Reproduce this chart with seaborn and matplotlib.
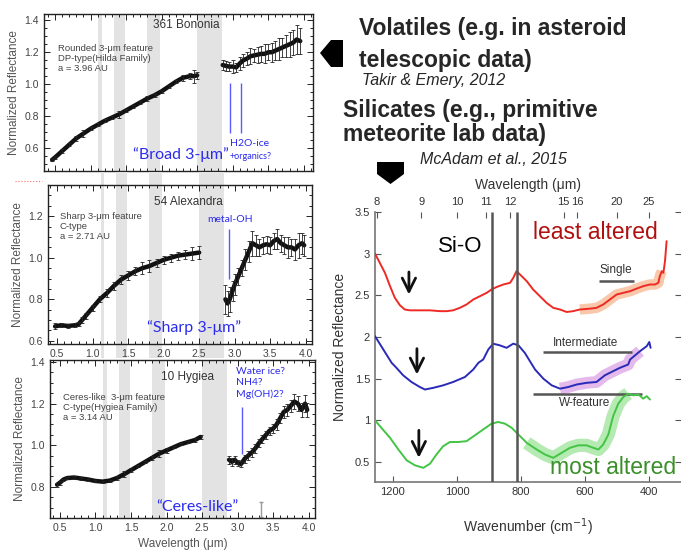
import numpy as np
import pandas as pd
import seaborn as sns
import matplotlib.pyplot as plt
from matplotlib.patches import Polygon
from matplotlib.ticker import MultipleLocator

# ---- asteroid spectra (Takir & Emery 2012) ----
bands = [(1.11, 1.16), (1.33, 1.48), (1.80, 1.98), (2.50, 2.85)]

bon_wl_a = [0.46, 0.50, 0.60, 0.70, 0.80, 0.90, 1.00, 1.10, 1.20, 1.30, 1.40, 1.50, 1.60,
            1.70, 1.80, 1.90, 2.00, 2.10, 2.20, 2.30, 2.40, 2.45, 2.50]
bon_r_a = [0.525, 0.54, 0.58, 0.62, 0.66, 0.69, 0.72, 0.745, 0.77, 0.79, 0.81, 0.835, 0.86,
           0.885, 0.91, 0.93, 0.955, 0.985, 1.015, 1.04, 1.05, 1.05, 1.055]
bon_e_a = [0.01, 0.01, 0.01, 0.01, 0.015, 0.02, 0.01, 0.01, 0.01, 0.01, 0.02, 0.01, 0.01,
           0.01, 0.015, 0.01, 0.01, 0.01, 0.01, 0.02, 0.02, 0.04, 0.02]
bon_wl_b = [2.86, 2.90, 2.95, 3.00, 3.05, 3.10, 3.15, 3.20, 3.25, 3.30, 3.35, 3.40, 3.45,
            3.50, 3.55, 3.60, 3.65, 3.70, 3.75, 3.80, 3.85, 3.90, 3.95]
bon_r_b = [1.12, 1.115, 1.11, 1.11, 1.105, 1.13, 1.15, 1.16, 1.175, 1.18, 1.185, 1.19, 1.19,
           1.20, 1.20, 1.21, 1.22, 1.23, 1.24, 1.25, 1.26, 1.28, 1.27]
bon_e_b = [0.03, 0.03, 0.03, 0.04, 0.03, 0.04, 0.04, 0.04, 0.05, 0.04, 0.05, 0.05, 0.06,
           0.05, 0.06, 0.06, 0.07, 0.06, 0.07, 0.08, 0.08, 0.09, 0.08]

ale_wl_a = [0.47, 0.55, 0.65, 0.75, 0.80, 0.85, 0.90, 1.00, 1.10, 1.20, 1.30, 1.40, 1.50,
            1.60, 1.70, 1.80, 1.90, 2.00, 2.10, 2.20, 2.30, 2.40, 2.50]
ale_r_a = [0.67, 0.675, 0.672, 0.675, 0.68, 0.70, 0.72, 0.76, 0.80, 0.83, 0.865, 0.895, 0.915,
           0.935, 0.95, 0.96, 0.975, 0.99, 1.00, 1.01, 1.015, 1.02, 1.025]
ale_e_a = [0.015, 0.01, 0.01, 0.01, 0.01, 0.015, 0.015, 0.015, 0.015, 0.02, 0.02, 0.02, 0.02,
           0.02, 0.03, 0.03, 0.02, 0.02, 0.02, 0.02, 0.02, 0.03, 0.03]
ale_wl_b = [2.87, 2.90, 2.93, 2.97, 3.00, 3.05, 3.10, 3.15, 3.20, 3.25, 3.30, 3.35, 3.40,
            3.45, 3.50, 3.55, 3.60, 3.65, 3.70, 3.75, 3.80, 3.85, 3.90, 3.95, 3.98]
ale_r_b = [0.80, 0.78, 0.80, 0.84, 0.87, 0.91, 0.95, 0.99, 1.03, 1.07, 1.06, 1.05, 1.06,
           1.065, 1.06, 1.08, 1.09, 1.07, 1.06, 1.05, 1.05, 1.04, 1.06, 1.07, 1.06]
ale_e_b = [0.07, 0.06, 0.06, 0.05, 0.05, 0.04, 0.04, 0.05, 0.05, 0.06, 0.05, 0.04, 0.04,
           0.04, 0.04, 0.04, 0.05, 0.04, 0.04, 0.05, 0.04, 0.05, 0.06, 0.05, 0.05]

hyg_wl_a = [0.46, 0.50, 0.55, 0.60, 0.70, 0.80, 0.90, 1.00, 1.10, 1.20, 1.30, 1.40, 1.50,
            1.60, 1.70, 1.80, 1.90, 2.00, 2.10, 2.20, 2.30, 2.40, 2.48]
hyg_r_a = [0.81, 0.82, 0.835, 0.842, 0.845, 0.84, 0.835, 0.828, 0.825, 0.83, 0.842, 0.86, 0.88,
           0.90, 0.92, 0.94, 0.96, 0.975, 0.99, 1.005, 1.015, 1.025, 1.04]
hyg_e_a = [0.01, 0.01, 0.005, 0.005, 0.005, 0.005, 0.005, 0.005, 0.005, 0.005, 0.01, 0.015, 0.01,
           0.005, 0.005, 0.01, 0.015, 0.01, 0.005, 0.005, 0.005, 0.01, 0.01]
hyg_wl_b = [2.88, 2.92, 2.96, 3.00, 3.05, 3.10, 3.15, 3.20, 3.25, 3.30, 3.35, 3.40, 3.45,
            3.50, 3.55, 3.60, 3.65, 3.70, 3.75, 3.80, 3.85, 3.90, 3.95, 3.98]
hyg_r_b = [0.93, 0.92, 0.93, 0.915, 0.91, 0.935, 0.95, 0.965, 0.985, 1.01, 1.03, 1.05, 1.07,
           1.08, 1.10, 1.13, 1.16, 1.17, 1.19, 1.21, 1.20, 1.17, 1.20, 1.17]
hyg_e_b = [0.02, 0.02, 0.02, 0.015, 0.015, 0.02, 0.02, 0.02, 0.02, 0.02, 0.02, 0.02, 0.02,
           0.02, 0.025, 0.025, 0.03, 0.03, 0.03, 0.035, 0.035, 0.035, 0.04, 0.035]

# ---- meteorite spectra (McAdam et al. 2015) ----
red_wn = [1256, 1241, 1225, 1209, 1194, 1178, 1163, 1147, 1116, 1084, 1053, 1032, 1012, 991,
          970, 949, 928, 907, 892, 876, 855, 834, 824, 814, 803, 782, 762, 741, 720, 699, 678,
          657, 637, 616, 584, 564, 543, 522, 501, 480, 459, 439, 418, 397, 381, 371, 366, 360,
          355, 350, 345]
red_r = [3.00, 2.89, 2.77, 2.61, 2.47, 2.38, 2.33, 2.32, 2.32, 2.32, 2.31, 2.31, 2.32, 2.35,
         2.39, 2.45, 2.49, 2.53, 2.57, 2.60, 2.63, 2.65, 2.71, 2.79, 2.75, 2.67, 2.57, 2.49,
         2.41, 2.35, 2.33, 2.30, 2.31, 2.33, 2.34, 2.35, 2.39, 2.45, 2.51, 2.53, 2.55, 2.58,
         2.61, 2.63, 2.63, 2.65, 2.73, 2.79, 2.77, 2.91, 3.15]
blue_wn = [1256, 1230, 1204, 1189, 1168, 1142, 1116, 1100, 1074, 1043, 1012, 975, 949, 933,
           918, 902, 887, 866, 845, 824, 808, 788, 772, 756, 730, 704, 678, 652, 626, 595, 564,
           538, 512, 491, 465, 459, 428, 407, 399, 395]
blue_r = [2.01, 1.85, 1.69, 1.63, 1.54, 1.46, 1.40, 1.37, 1.39, 1.42, 1.46, 1.52, 1.61, 1.69,
          1.73, 1.85, 1.92, 1.90, 1.87, 1.92, 1.90, 1.81, 1.71, 1.61, 1.50, 1.42, 1.38, 1.40,
          1.43, 1.45, 1.46, 1.54, 1.59, 1.63, 1.67, 1.73, 1.83, 1.89, 1.94, 1.87]
green_wn = [1256, 1236, 1209, 1183, 1157, 1131, 1105, 1084, 1064, 1043, 1022, 996, 970, 944,
            918, 892, 871, 850, 829, 808, 782, 751, 725, 699, 673, 647, 621, 595, 574, 558, 543,
            527, 512, 496, 480, 465, 449, 433, 418, 407, 397]
green_r = [1.00, 0.91, 0.79, 0.65, 0.52, 0.46, 0.43, 0.48, 0.59, 0.69, 0.74, 0.74, 0.75, 0.82,
           0.89, 0.96, 0.98, 0.96, 0.91, 0.83, 0.73, 0.65, 0.59, 0.55, 0.61, 0.67, 0.70, 0.70,
           0.67, 0.65, 0.71, 0.83, 1.05, 1.20, 1.28, 1.32, 1.30, 1.31, 1.26, 1.29, 1.25]
top_ticks = [8, 9, 10, 11, 12, 15, 16, 20, 25]
sio_lines = [891, 812]

W, H = 681, 550
sns.set_style("ticks")
plt.rcParams['font.family'] = ['Liberation Sans', 'DejaVu Sans']
fig = plt.figure(figsize=(W / 100, H / 100), dpi=100)


def box(x0, y0, x1, y1):
    return [x0 / W, 1 - y1 / H, (x1 - x0) / W, (y1 - y0) / H]


grey = '#444444'
blue = '#2b2bef'
note_font = ['Lato', 'DejaVu Sans']


def spectrum(ax, wla, ra, ea, wlb, rb, eb, xlim, ylim, yticks):
    for lo, hi in bands:
        ax.axvspan(lo, hi, color='#e3e3e3', lw=0, zorder=0)
    for wl, r, e in [(wla, ra, ea), (wlb, rb, eb)]:
        df = pd.DataFrame({'wl': wl, 'r': r})
        sns.lineplot(data=df, x='wl', y='r', ax=ax, color='#111111', lw=3.2,
                     estimator=None, sort=False, zorder=3)
        ax.errorbar(wl, r, yerr=e, fmt='none', ecolor='#222222', elinewidth=0.6,
                    capsize=1.3, capthick=0.6, zorder=3)
    ax.set_xlim(*xlim)
    ax.set_ylim(*ylim)
    ax.set_yticks(yticks)
    ax.set_xticks([0.5, 1.0, 1.5, 2.0, 2.5, 3.0, 3.5, 4.0])
    ax.xaxis.set_minor_locator(MultipleLocator(0.1))
    ax.yaxis.set_minor_locator(MultipleLocator(0.05))
    ax.tick_params(which='both', direction='in', top=True, right=True, colors='#222222',
                   labelcolor=grey, labelsize=7.5, width=0.7)
    ax.tick_params(which='major', length=4)
    ax.tick_params(which='minor', length=2)
    for s in ax.spines.values():
        s.set_linewidth(1.0)
        s.set_color('#222222')
    ax.set_xlabel('')
    ax.set_ylabel('Normalized Reflectance', fontsize=8.5, color='#555555', labelpad=3)


# panel 1: 361 Bononia
ax1 = fig.add_axes(box(44, 14, 313, 171))
spectrum(ax1, bon_wl_a, bon_r_a, bon_e_a, bon_wl_b, bon_r_b, bon_e_b,
         (0.345, 4.13), (0.455, 1.44), [0.6, 0.8, 1.0, 1.2, 1.4])
ax1.tick_params(labelbottom=False)
ax1.text(0.53, 0.93, '361 Bononia', transform=ax1.transAxes, ha='center', va='center',
         fontsize=8.5, color='#333333')
ax1.text(0.052, 0.81, 'Rounded 3-\u03bcm feature\nDP-type(Hilda Family)\na = 3.96 AU',
         transform=ax1.transAxes, ha='left', va='top', fontsize=6.8, color='#444444',
         linespacing=1.15)
ax1.vlines([2.96, 3.12], 0.694, 1.006, color='#5a5aff', lw=1.0)
ax1.text(2.96, 0.63, 'H2O-ice', color=blue, fontsize=7.5, family=note_font, va='center')
ax1.text(2.96, 0.544, '+organics?', color=blue, fontsize=6.5, family=note_font, va='center')
ax1.text(1.60, 0.556, '\u201cBroad 3-\u03bcm\u201d', color=blue, fontsize=11.5,
         family=note_font, va='center')

# panel 2: 54 Alexandra
ax2 = fig.add_axes(box(48, 185, 312, 344))
spectrum(ax2, ale_wl_a, ale_r_a, ale_e_a, ale_wl_b, ale_r_b, ale_e_b,
         (0.37, 4.09), (0.585, 1.35), [0.6, 0.8, 1.0, 1.2])
for lo, hi in bands:
    ax2.axvspan(lo, hi, ymin=-0.085, ymax=1.08, color='#e3e3e3', lw=0, zorder=0,
                clip_on=False)
ax2.text(0.53, 0.89, '54 Alexandra', transform=ax2.transAxes, ha='center', va='center',
         fontsize=8.5, color='#333333')
ax2.text(0.045, 0.83, 'Sharp 3-\u03bcm feature\nC-type\na = 2.71 AU',
         transform=ax2.transAxes, ha='left', va='top', fontsize=6.8, color='#444444',
         linespacing=1.15)
ax2.vlines([2.92], 0.90, 1.138, color='#5a5aff', lw=1.0)
ax2.text(2.62, 1.186, 'metal-OH', color=blue, fontsize=7.5, family=note_font, va='center')
ax2.text(1.77, 0.662, '\u201cSharp 3-\u03bcm\u201d', color=blue, fontsize=11.5,
         family=note_font, va='center')

# panel 3: 10 Hygiea
ax3 = fig.add_axes(box(50, 360, 315, 518))
ax3.patch.set_facecolor('white')
spectrum(ax3, hyg_wl_a, hyg_r_a, hyg_e_a, hyg_wl_b, hyg_r_b, hyg_e_b,
         (0.36, 4.09), (0.65, 1.41), [0.8, 1.0, 1.2, 1.4])
ax3.errorbar([3.33], [0.69], yerr=[0.035], fmt='none', ecolor='#999999', elinewidth=1.0,
             capsize=1.5)
ax3.set_xlabel('Wavelength (\u03bcm)', fontsize=8.5, color='#555555', labelpad=4)
ax3.text(0.52, 0.89, '10 Hygiea', transform=ax3.transAxes, ha='center', va='center',
         fontsize=8.5, color='#333333')
ax3.text(0.05, 0.79, 'Ceres-like  3-\u03bcm feature\nC-type(Hygiea Family)\na = 3.14 AU',
         transform=ax3.transAxes, ha='left', va='top', fontsize=6.8, color='#444444',
         linespacing=1.15)
ax3.text(2.975, 1.375, 'Water ice?\nNH4?\nMg(OH)2?', color=blue, fontsize=7.5,
         family=note_font, va='top', linespacing=1.3)
ax3.vlines([3.06], 0.96, 1.184, color='#5a5aff', lw=1.0)
ax3.text(1.86, 0.703, '\u201cCeres-like\u201d', color=blue, fontsize=11.5,
         family=note_font, va='center')

# right panel: meteorite spectra
axr = fig.add_axes(box(375, 212, 681, 482))
for wn, r, c in [(red_wn, red_r, '#ee2a24'), (blue_wn, blue_r, '#2a2ab8'),
                 (green_wn, green_r, '#44c444')]:
    sns.lineplot(x=wn, y=r, ax=axr, color=c, lw=1.4, estimator=None, sort=False, zorder=3)
for wn, r, lo, hi, c, lw in [(red_wn, red_r, 630, 360, '#f7b58c', 7.5),
                             (blue_wn, blue_r, 680, 410, '#dca3e6', 8.5),
                             (green_wn, green_r, 790, 465, '#9ce39a', 9.5)]:
    wn_a = np.array(wn)
    m = (wn_a <= lo) & (wn_a >= hi)
    axr.plot(wn_a[m], np.array(r)[m], color=c, lw=lw, alpha=0.75, solid_capstyle='butt',
             solid_joinstyle='round', zorder=2)
axr.vlines(sio_lines, 0.26, 3.5, color='#555555', lw=1.8, zorder=4)
axr.set_xlim(1256, 300)
axr.set_ylim(0.26, 3.5)
axr.set_xticks([1200, 1000, 800, 600, 400])
axr.set_yticks([0.5, 1, 1.5, 2, 2.5, 3, 3.5])
axr.set_yticklabels(['0.5', '1', '1.5', '2', '2.5', '3', '3.5'])
axr.tick_params(direction='in', right=True, length=4, width=0.8, colors='#555555',
                labelcolor='#333333', labelsize=8)
axr.spines['top'].set_visible(False)
axr.spines['right'].set_visible(False)
for s in ['left', 'bottom']:
    axr.spines[s].set_color('#777777')
    axr.spines[s].set_linewidth(1.2)
axr.set_xlabel('Wavenumber (cm$^{-1}$)', fontsize=10, color='#333333', labelpad=14)
axr.set_ylabel('Normalized Reflectance', fontsize=10, color='#333333')
axr.yaxis.set_label_coords(-0.09, 0.5)


def inv(x):
    x = np.asarray(x, dtype=float)
    with np.errstate(divide='ignore'):
        return np.where(x != 0, 1e4 / np.where(x != 0, x, 1), np.inf)


top = axr.secondary_xaxis('top', functions=(inv, inv))
top.set_xticks(top_ticks)
top.set_xticklabels([str(t) for t in top_ticks])
top.tick_params(direction='in', length=4, width=0.8, colors='#555555', labelcolor='#333333',
                labelsize=8)
top.spines['top'].set_visible(False)
top.set_xlabel('Wavelength (\u03bcm)', fontsize=10, color='#333333', labelpad=6)

axr.text(1059, 3.08, 'Si-O', fontsize=16, color='black', va='center')
axr.text(762, 3.25, 'least altered', fontsize=16.5, color='#b01010', va='center')
axr.text(709, 0.44, 'most altered', fontsize=16.5, color='#3a8f2a', va='center')
axr.hlines(2.67, 556, 447, color='#555555', lw=1.8)
axr.text(503, 2.80, 'Single', fontsize=8.5, color='#333333', ha='center', va='center')
axr.hlines(1.82, 731, 453, color='#555555', lw=1.8)
axr.text(597, 1.93, 'Intermediate', fontsize=8.5, color='#333333', ha='center', va='center')
axr.hlines(1.32, 762, 422, color='#555555', lw=1.8)
axr.text(600, 1.21, 'W-feature', fontsize=8.5, color='#333333', ha='center', va='center')
for x, y0, y1 in [(1150, 2.78, 2.51), (1125, 1.86, 1.55), (1119, 0.88, 0.55)]:
    axr.annotate('', xy=(x, y1), xytext=(x, y0),
                 arrowprops=dict(arrowstyle='->', lw=2.0, color='#111111',
                                 mutation_scale=24, shrinkA=0, shrinkB=0))

# headings
fig.text(359 / W, 1 - 29 / H, 'Volatiles (e.g. in asteroid', fontsize=16.5, weight='bold',
         va='center')
fig.text(359 / W, 1 - 60 / H, 'telescopic data)', fontsize=16.5, weight='bold', va='center')
fig.text(362 / W, 1 - 81 / H, 'Takir & Emery, 2012', fontsize=11.5, style='italic',
         va='center')
fig.text(343 / W, 1 - 111 / H, 'Silicates (e.g., primitive', fontsize=16.5, weight='bold',
         va='center')
fig.text(343 / W, 1 - 135 / H, 'meteorite lab data)', fontsize=16.5, weight='bold',
         va='center')
fig.text(420 / W, 1 - 160 / H, 'McAdam et al., 2015', fontsize=11.5, style='italic',
         va='center')


def fig_poly(pts):
    return Polygon([(x / W, 1 - y / H) for x, y in pts], closed=True,
                   transform=fig.transFigure, color='black', lw=0)


fig.patches.append(fig_poly([(320, 53), (331, 40), (343, 40), (343, 67), (331, 67)]))
fig.patches.append(fig_poly([(377, 162), (404, 162), (404, 174), (390.5, 184), (377, 174)]))
fig.lines.append(plt.Line2D([15 / W, 42 / W], [1 - 181 / H, 1 - 181 / H],
                            transform=fig.transFigure, color='#ff7070', lw=0.8, ls=':'))

fig.savefig('out.png', dpi=100, facecolor='white')
